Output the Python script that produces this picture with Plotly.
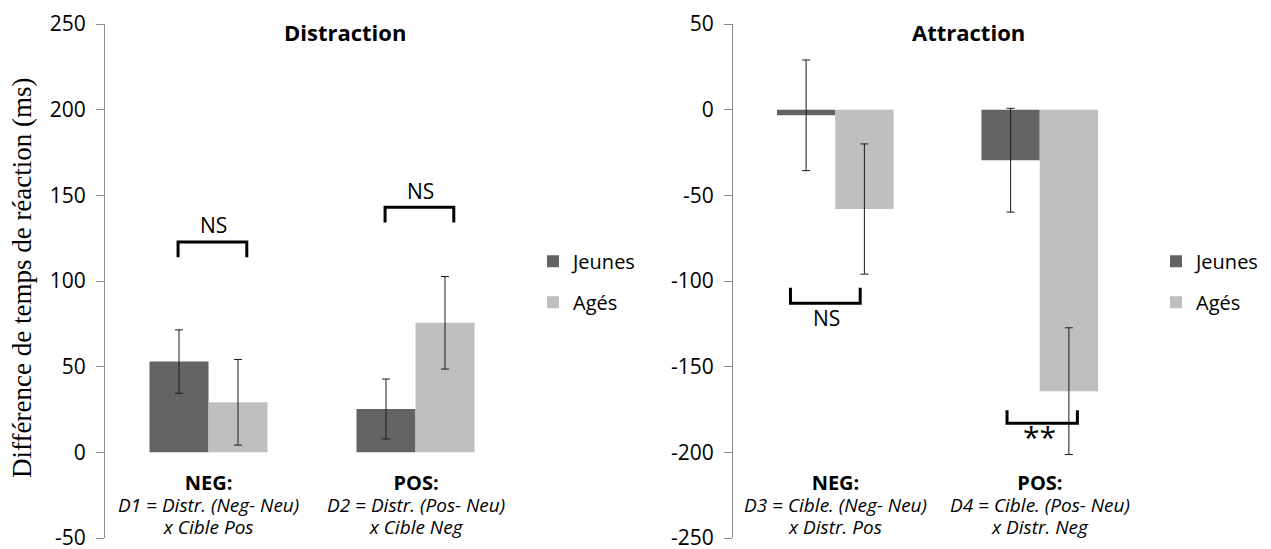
import plotly.graph_objects as go

# ---------------- data ----------------
categories = ["NEG", "POS"]
groups = ["Jeunes", "Agés"]

distraction_jeunes = [53.0, 25.3]
distraction_jeunes_err = [18.5, 17.5]
distraction_ages = [29.2, 75.6]
distraction_ages_err = [25.0, 27.0]

attraction_jeunes = [-3.3, -29.5]
attraction_jeunes_err = [32.3, 30.3]
attraction_ages = [-58.0, -164.3]
attraction_ages_err = [38.0, 37.0]

distraction_titles = ["NEG:", "POS:"]
distraction_line2 = ["D1 = Distr. (Neg- Neu)", "D2 = Distr. (Pos- Neu)"]
distraction_line3 = ["x Cible Pos", "x Cible Neg"]
attraction_titles = ["NEG:", "POS:"]
attraction_line2 = ["D3 = Cible. (Neg- Neu)", "D4 = Cible. (Pos- Neu)"]
attraction_line3 = ["x Distr. Pos", "x Distr. Neg"]

distraction_sig = ["NS", "NS"]
distraction_sig_line = [122.7, 143.0]
distraction_sig_leg = [113.8, 134.1]
distraction_sig_text = [132.4, 152.6]

attraction_sig = ["NS", "**"]
attraction_sig_line = [-113.0, -183.0]
attraction_sig_leg = [-104.0, -175.4]
attraction_sig_text = [-121.5, -191.0]

y_ticks_distraction = [-50, 0, 50, 100, 150, 200, 250]
y_ticks_attraction = [-250, -200, -150, -100, -50, 0, 50]

# ---------------- style ----------------
W, H = 1271, 549
DARK = "#636363"
LIGHT = "#bfbfbf"
SANS = "Open Sans"
SERIF = "Liberation Serif"
AXIS_COL = "#8c8c8c"

def px(x):
    return x / W

def py(y):
    return 1 - y / H

xpos = list(range(len(categories)))

fig = go.Figure()

err_style = dict(type="data", color="#1a1a1a", thickness=1, width=4)

fig.add_trace(go.Bar(x=xpos, y=distraction_jeunes, name=groups[0], marker_color=DARK,
                     marker_line_width=0,
                     error_y=dict(array=distraction_jeunes_err, **err_style),
                     xaxis="x", yaxis="y", legend="legend", legendgroup="a"))
fig.add_trace(go.Bar(x=xpos, y=distraction_ages, name=groups[1], marker_color=LIGHT,
                     marker_line_width=0,
                     error_y=dict(array=distraction_ages_err, **err_style),
                     xaxis="x", yaxis="y", legend="legend", legendgroup="b"))
fig.add_trace(go.Bar(x=xpos, y=attraction_jeunes, name=groups[0], marker_color=DARK,
                     marker_line_width=0,
                     error_y=dict(array=attraction_jeunes_err, **err_style),
                     xaxis="x2", yaxis="y2", legend="legend2", legendgroup="c"))
fig.add_trace(go.Bar(x=xpos, y=attraction_ages, name=groups[1], marker_color=LIGHT,
                     marker_line_width=0,
                     error_y=dict(array=attraction_ages_err, **err_style),
                     xaxis="x2", yaxis="y2", legend="legend2", legendgroup="d"))

ydom = [py(538), py(24)]
common_x = dict(range=[-0.5, len(categories) - 0.5], showticklabels=False, showgrid=False,
                zeroline=False, showline=False, ticks="", fixedrange=True, automargin=False)
common_y = dict(showgrid=False, zeroline=False, showline=True, linecolor=AXIS_COL, linewidth=1,
                ticks="outside", ticklen=8, tickcolor=AXIS_COL, tickwidth=1, automargin=False,
                ticklabeloverflow="allow",
                tickfont=dict(family=SANS, size=21, color="#000000"), ticklabelstandoff=6)

fig.update_layout(
    template="none",
    width=W, height=H,
    margin=dict(l=0, r=0, t=0, b=0, pad=0),
    paper_bgcolor="white", plot_bgcolor="white",
    barmode="group", bargap=0.43, bargroupgap=0,
    xaxis=dict(domain=[px(105), px(519)], anchor="y", **common_x),
    yaxis=dict(domain=ydom, anchor="x", range=[-50, 250], tickvals=y_ticks_distraction,
               ticktext=[str(v) for v in y_ticks_distraction], **common_y),
    xaxis2=dict(domain=[px(733), px(1142)], anchor="y2", **common_x),
    yaxis2=dict(domain=ydom, anchor="x2", range=[-250, 50], tickvals=y_ticks_attraction,
                ticktext=[str(v) for v in y_ticks_attraction], **common_y),
    legend=dict(x=px(533), y=py(281.7), xanchor="left", yanchor="middle",
                font=dict(family=SANS, size=20, color="#000000"), tracegroupgap=12,
                bgcolor="rgba(0,0,0,0)"),
    legend2=dict(x=px(1156), y=py(281.7), xanchor="left", yanchor="middle",
                 font=dict(family=SANS, size=20, color="#000000"), tracegroupgap=12,
                 bgcolor="rgba(0,0,0,0)"),
    showlegend=True,
)

C = dict(xanchor="center", yanchor="middle", showarrow=False)
ann = []
# titles
ann.append(dict(text="<b>Distraction</b>", x=px(345), y=py(32), xref="paper", yref="paper",
                font=dict(family=SANS, size=22, color="#000000"), **C))
ann.append(dict(text="<b>Attraction</b>", x=px(968), y=py(32), xref="paper", yref="paper",
                font=dict(family=SANS, size=22, color="#000000"), **C))
# y title
ann.append(dict(text="Différence de temps de réaction (ms)", x=px(22), y=py(278), xref="paper",
                yref="paper", textangle=-90,
                font=dict(family=SERIF, size=27, color="#000000"), **C))

# category labels (three lines in one block)
for xr, titles, l2, l3 in [("x", distraction_titles, distraction_line2, distraction_line3),
                            ("x2", attraction_titles, attraction_line2, attraction_line3)]:
    for i in xpos:
        txt = ("<span style='font-size:20px'><b>" + titles[i] + "</b></span><br>"
               "<span style='font-size:19px'><i>" + l2[i] + "</i></span><br>"
               "<span style='font-size:19px'><i>" + l3[i] + "</i></span>")
        ann.append(dict(text=txt, x=i, y=py(504), xref=xr, yref="paper",
                        font=dict(family=SANS, size=17, color="#000000"), **C))

shapes = []
# significance brackets
left_off = [(-0.147, 0.185), (-0.147, 0.185)]
right_off = [(-0.219, 0.122), (-0.16, 0.184)]
for i in xpos:
    a, b = left_off[i]
    y1, y0 = distraction_sig_line[i], distraction_sig_leg[i]
    shapes.append(dict(type="path", xref="x", yref="y",
                       path=f"M {i+a},{y0} L {i+a},{y1} L {i+b},{y1} L {i+b},{y0}",
                       line=dict(color="#000000", width=3)))
    ann.append(dict(text=distraction_sig[i], x=i + 0.025, y=distraction_sig_text[i], xref="x", yref="y",
                    font=dict(family=SANS, size=21, color="#000000"), **C))
    a, b = right_off[i]
    y1, y0 = attraction_sig_line[i], attraction_sig_leg[i]
    shapes.append(dict(type="path", xref="x2", yref="y2",
                       path=f"M {i+a},{y0} L {i+a},{y1} L {i+b},{y1} L {i+b},{y0}",
                       line=dict(color="#000000", width=3)))
    ann.append(dict(text=attraction_sig[i], x=i + (-0.044 if i == 0 else 0.0), y=attraction_sig_text[i],
                    xref="x2", yref="y2",
                    font=dict(family=SANS, size=21 if i == 0 else 30, color="#000000"), **C))

fig.update_layout(annotations=ann, shapes=shapes)

fig.write_html("out.html", config={"displayModeBar": False},
               post_script="document.body.style.margin='0';")
